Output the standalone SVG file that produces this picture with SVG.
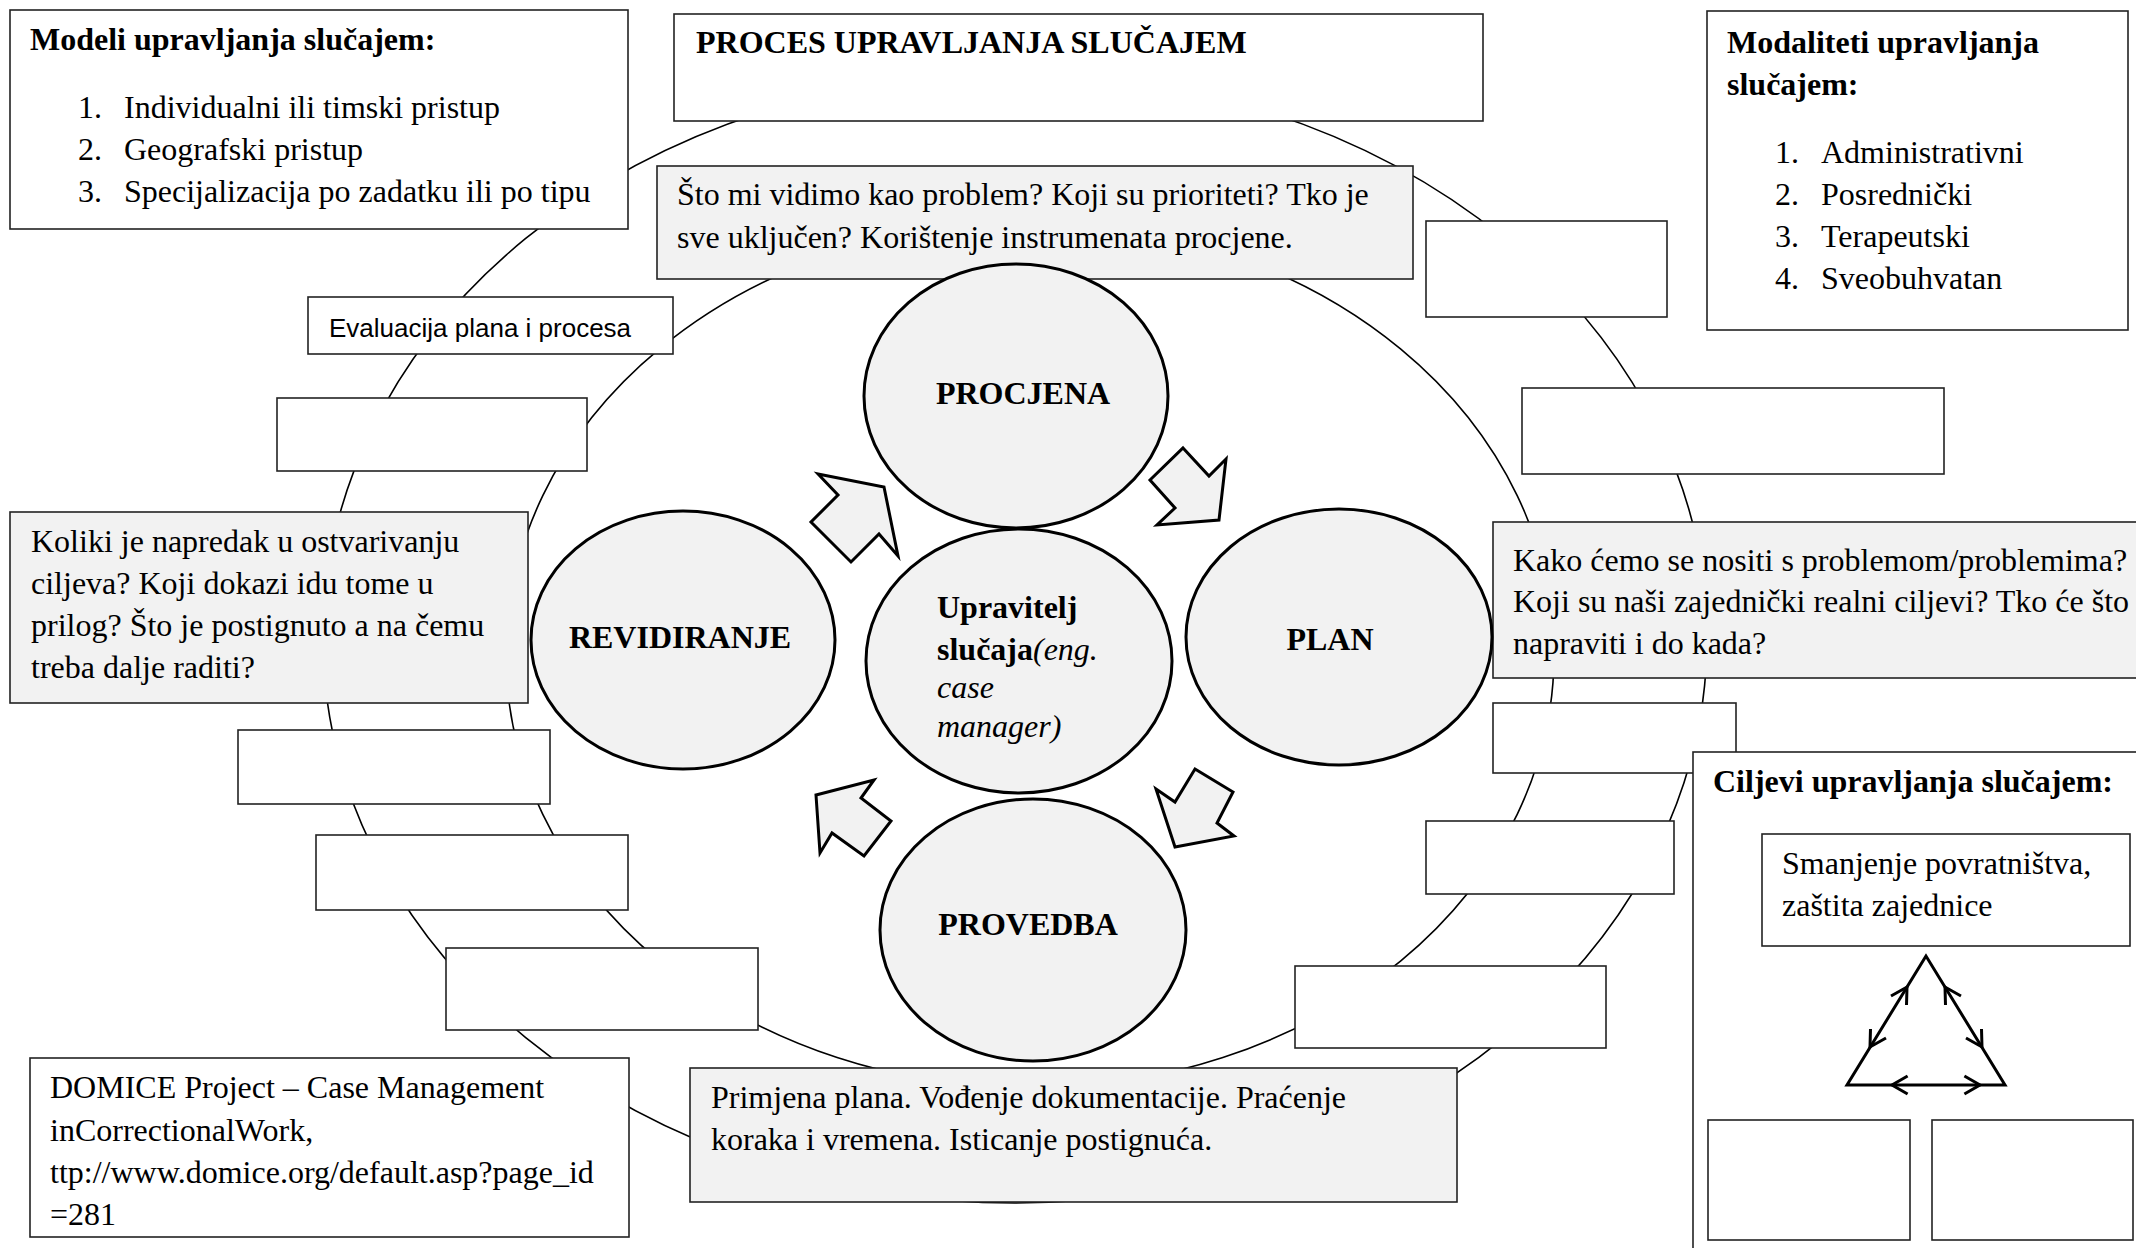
<svg xmlns="http://www.w3.org/2000/svg" width="2136" height="1248" viewBox="0 0 2136 1248">
<style>
.box{fill:#fff;stroke:#222;stroke-width:1.6}
.gbox{fill:#f2f2f2;stroke:#222;stroke-width:1.6}
.circ{fill:#f2f2f2;stroke:#000;stroke-width:3}
.ring{fill:none;stroke:#000;stroke-width:1.6}
.arr{fill:#f2f2f2;stroke:#000;stroke-width:3;stroke-linejoin:miter}
.tri{fill:none;stroke:#000;stroke-width:3;stroke-linejoin:miter}
.t{font-family:"Liberation Serif","Times New Roman",serif;font-size:32px;fill:#000}
.b{font-weight:bold}
.i{font-style:italic}
.s{font-family:"Liberation Sans",Arial,sans-serif;font-size:26px;fill:#000}
.c{text-anchor:middle}
</style>
<rect width="2136" height="1248" fill="#fff"/>
<g id="rings">
<ellipse class="ring" cx="1015" cy="638" rx="692" ry="565"/>
<ellipse class="ring" cx="1030" cy="655" rx="524" ry="433"/>
</g>
<g id="modeli">
<rect class="box" x="10" y="10" width="618" height="219"/>
<text class="t b" x="30" y="50">Modeli upravljanja slučajem:</text>
<text class="t" y="118"><tspan x="78">1.</tspan><tspan x="124">Individualni ili timski pristup</tspan></text>
<text class="t" y="160"><tspan x="78">2.</tspan><tspan x="124">Geografski pristup</tspan></text>
<text class="t" y="202"><tspan x="78">3.</tspan><tspan x="124">Specijalizacija po zadatku ili po tipu</tspan></text>
</g>
<g id="naslov">
<rect class="box" x="674" y="14" width="809" height="107"/>
<text class="t b" x="696" y="53">PROCES UPRAVLJANJA SLUČAJEM</text>
</g>
<g id="modaliteti">
<rect class="box" x="1707" y="11" width="421" height="319"/>
<text class="t b" x="1727" y="53">Modaliteti upravljanja</text>
<text class="t b" x="1727" y="95">slučajem:</text>
<text class="t" y="163"><tspan x="1775">1.</tspan><tspan x="1821">Administrativni</tspan></text>
<text class="t" y="205"><tspan x="1775">2.</tspan><tspan x="1821">Posrednički</tspan></text>
<text class="t" y="247"><tspan x="1775">3.</tspan><tspan x="1821">Terapeutski</tspan></text>
<text class="t" y="289"><tspan x="1775">4.</tspan><tspan x="1821">Sveobuhvatan</tspan></text>
</g>
<g id="procjena-opis">
<rect class="gbox" x="657" y="166" width="756" height="113"/>
<text class="t" x="677" y="205">Što mi vidimo kao problem? Koji su prioriteti? Tko je</text>
<text class="t" x="677" y="248">sve uključen? Korištenje instrumenata procjene.</text>
</g>
<g id="evaluacija">
<rect class="box" x="308" y="297" width="365" height="57"/>
<text class="s" x="329" y="337">Evaluacija plana i procesa</text>
</g>
<g id="prazno-tr"><rect class="box" x="1426" y="221" width="241" height="96"/></g>
<g id="prazno-r1"><rect class="box" x="1522" y="388" width="422" height="86"/></g>
<g id="prazno-r2"><rect class="box" x="1493" y="703" width="243" height="70"/></g>
<g id="prazno-r3"><rect class="box" x="1426" y="821" width="248" height="73"/></g>
<g id="prazno-r4"><rect class="box" x="1295" y="966" width="311" height="82"/></g>
<g id="prazno-l1"><rect class="box" x="277" y="398" width="310" height="73"/></g>
<g id="prazno-l2"><rect class="box" x="238" y="730" width="312" height="74"/></g>
<g id="prazno-l3"><rect class="box" x="316" y="835" width="312" height="75"/></g>
<g id="prazno-l4"><rect class="box" x="446" y="948" width="312" height="82"/></g>
<g id="revidiranje-opis">
<rect class="gbox" x="10" y="512" width="518" height="191"/>
<text class="t" x="31" y="552">Koliki je napredak u ostvarivanju</text>
<text class="t" x="31" y="594">ciljeva? Koji dokazi idu tome u</text>
<text class="t" x="31" y="636">prilog? Što je postignuto a na čemu</text>
<text class="t" x="31" y="678">treba dalje raditi?</text>
</g>
<g id="plan-opis">
<rect class="gbox" x="1493" y="522" width="660" height="156"/>
<text class="t" x="1513" y="571">Kako ćemo se nositi s problemom/problemima?</text>
<text class="t" x="1513" y="612">Koji su naši zajednički realni ciljevi? Tko će što</text>
<text class="t" x="1513" y="654">napraviti i do kada?</text>
</g>
<g id="domice">
<rect class="box" x="30" y="1058" width="599" height="179"/>
<text class="t" x="50" y="1098">DOMICE Project – Case Management</text>
<text class="t" x="50" y="1141">inCorrectionalWork,</text>
<text class="t" x="50" y="1183">ttp://www.domice.org/default.asp?page_id</text>
<text class="t" x="50" y="1225">=281</text>
</g>
<g id="provedba-opis">
<rect class="gbox" x="690" y="1068" width="767" height="134"/>
<text class="t" x="711" y="1108">Primjena plana. Vođenje dokumentacije. Praćenje</text>
<text class="t" x="711" y="1150">koraka i vremena. Isticanje postignuća.</text>
</g>
<g id="ciljevi">
<rect class="box" x="1693" y="752" width="460" height="520"/>
<text class="t b" x="1713" y="792">Ciljevi upravljanja slučajem:</text>
<rect class="box" x="1762" y="834" width="368" height="112"/>
<text class="t" x="1782" y="874">Smanjenje povratništva,</text>
<text class="t" x="1782" y="916">zaštita zajednice</text>
<polygon class="tri" points="1926,956 1847,1085 2005,1085"/>
<path class="tri" d="M1891,996 L1907,987 L1906.5,1005 M1886,1038 L1870,1047 L1870.5,1029 M1945.5,1005 L1945,987 L1961,996 M1981.5,1029 L1982,1047 L1966,1038 M1907.6,1076 L1892,1085 L1907.6,1094 M1964.4,1076 L1980,1085 L1964.4,1094"/>
<rect class="box" x="1708" y="1120" width="202" height="120"/>
<rect class="box" x="1932" y="1120" width="201" height="120"/>
</g>
<g id="procjena">
<ellipse class="circ" cx="1016" cy="396" rx="152" ry="132"/>
<text class="t b c" x="1023" y="404">PROCJENA</text>
</g>
<g id="upravitelj">
<ellipse class="circ" cx="1019" cy="661" rx="153" ry="132"/>
<text class="t" x="937" y="618"><tspan class="b">Upravitelj</tspan></text>
<text class="t" x="937" y="660"><tspan class="b">slučaja</tspan><tspan class="i">(eng.</tspan></text>
<text class="t i" x="937" y="698">case</text>
<text class="t i" x="937" y="737">manager)</text>
</g>
<g id="plan">
<ellipse class="circ" cx="1339" cy="637" rx="153" ry="128"/>
<text class="t b c" x="1330" y="650">PLAN</text>
</g>
<g id="revidiranje">
<ellipse class="circ" cx="683" cy="640" rx="152" ry="129"/>
<text class="t b c" x="680" y="648">REVIDIRANJE</text>
</g>
<g id="provedba">
<ellipse class="circ" cx="1033" cy="930" rx="153" ry="131"/>
<text class="t b c" x="1028" y="935">PROVEDBA</text>
</g>
<g id="connectors">
<polygon class="arr" points="818,474 884,487 898,556 879,534 851,562 811,522 838,495"/>
<polygon class="arr" points="1183,448 1209,476 1226,459 1219,520 1157,525 1175,508 1150,480"/>
<polygon class="arr" points="1195,769 1233,792 1217,823 1234,836 1175,847 1156,789 1175,802"/>
<polygon class="arr" points="816,795 874,780 861,798 891,821 864,856 832,833 820,853"/>
</g>
</svg>
